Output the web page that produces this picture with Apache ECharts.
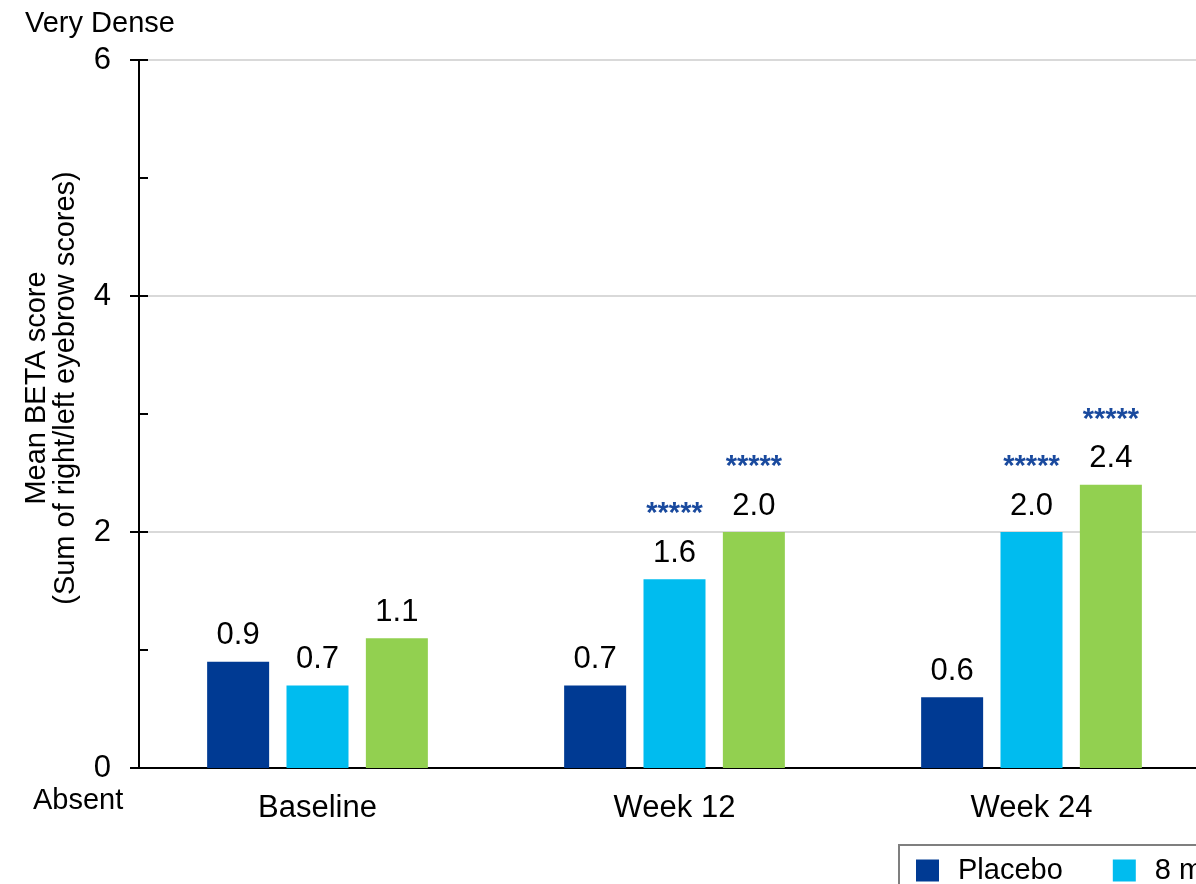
<!DOCTYPE html>
<html>
<head>
<meta charset="utf-8">
<script src="https://cdn.jsdelivr.net/npm/echarts@6/dist/echarts.min.js"></script>
<style>
html,body{margin:0;padding:0;background:#fff;overflow:hidden;width:1196px;height:884px;}
#chart{width:1500px;height:884px;}
</style>
</head>
<body>
<div id="chart"></div>
<script>
var categories = ['Baseline', 'Week 12', 'Week 24'];
var seriesNames = ['Placebo', '8 mg BID', '12 mg BID'];
var placebo = [0.9, 0.7, 0.6];
var dose8 = [0.7, 1.6, 2.0];
var dose12 = [1.1, 2.0, 2.4];
var sig8 = ['', '*****', '*****'];
var sig12 = ['', '*****', '*****'];
var sigPlacebo = ['', '', ''];
var yTicks = [0, 2, 4, 6];
var colors = ['#003A93', '#00BCEF', '#92D050'];

var FONT = 'Liberation Sans, Arial, sans-serif';

function makeSeries(name, values, sig, color) {
  return {
    name: name,
    type: 'bar',
    barWidth: 62,
    barGap: '28%',
    itemStyle: { color: color },
    data: values,
    label: {
      show: true,
      position: 'top',
      distance: 10,
      fontFamily: FONT,
      formatter: function (p) {
        var v = p.value.toFixed(1);
        var s = sig[p.dataIndex];
        return s ? '{s|' + s + '}\n{v|' + v + '}' : '{v|' + v + '}';
      },
      rich: {
        v: { fontSize: 31, color: '#000', lineHeight: 32, fontFamily: FONT },
        s: { fontSize: 29, color: '#1A4A9E', lineHeight: 46, fontFamily: FONT, fontWeight: 'bold' }
      }
    }
  };
}

var chart = echarts.init(document.getElementById('chart'), null, { renderer: 'canvas' });
chart.setOption({
  animation: false,
  backgroundColor: '#fff',
  textStyle: { fontFamily: FONT },
  grid: { left: 139, top: 60, bottom: 116, width: 1071, containLabel: false },
  legend: {
    data: seriesNames,
    left: 899,
    top: 845,
    orient: 'horizontal',
    itemWidth: 23,
    itemHeight: 22,
    itemGap: 50,
    icon: 'rect',
    padding: [11, 17, 11, 17],
    borderColor: '#7F7F7F',
    borderWidth: 2,
    borderRadius: 0,
    textStyle: { fontSize: 29, color: '#000', fontFamily: FONT, padding: [0, 0, 0, 14] }
  },
  graphic: [
    { type: 'text', left: 25, top: 9, style: { text: 'Very Dense', fontSize: 29, fontFamily: FONT, fill: '#000' } },
    { type: 'text', left: 33, top: 786, style: { text: 'Absent', fontSize: 29, fontFamily: FONT, fill: '#000' } },
    {
      type: 'text', x: 51, y: 388, rotation: Math.PI / 2,
      style: {
        text: 'Mean BETA score\n(Sum of right/left eyebrow scores)',
        fontSize: 29, lineHeight: 29, fontFamily: FONT, fill: '#000',
        align: 'center', verticalAlign: 'middle', x: 0, y: 0
      }
    }
  ],
  xAxis: {
    type: 'category',
    data: categories,
    axisLine: { show: true, lineStyle: { color: '#000', width: 2 } },
    axisTick: { show: false },
    axisLabel: { fontSize: 31, color: '#000', margin: 25, fontFamily: FONT }
  },
  yAxis: [
    {
      type: 'value',
      min: 0, max: 6, interval: 2,
      axisLine: { show: true, lineStyle: { color: '#000', width: 2 } },
      axisTick: { show: true, inside: false, length: 9, lineStyle: { color: '#000', width: 2 } },
      axisLabel: {
        fontSize: 31, color: '#000', margin: 28, fontFamily: FONT,
        formatter: function (v) { return yTicks.indexOf(v) >= 0 ? String(v) : ''; }
      },
      splitLine: { show: true, lineStyle: { color: '#D9D9D9', width: 2 } }
    },
    {
      type: 'value',
      min: 0, max: 6, interval: 1,
      position: 'left',
      axisLine: { show: false },
      axisTick: { show: true, inside: true, length: 9, lineStyle: { color: '#000', width: 2 } },
      axisLabel: { show: false },
      splitLine: { show: false }
    }
  ],
  series: [
    makeSeries(seriesNames[0], placebo, sigPlacebo, colors[0]),
    makeSeries(seriesNames[1], dose8, sig8, colors[1]),
    makeSeries(seriesNames[2], dose12, sig12, colors[2])
  ]
});
</script>
</body>
</html>
